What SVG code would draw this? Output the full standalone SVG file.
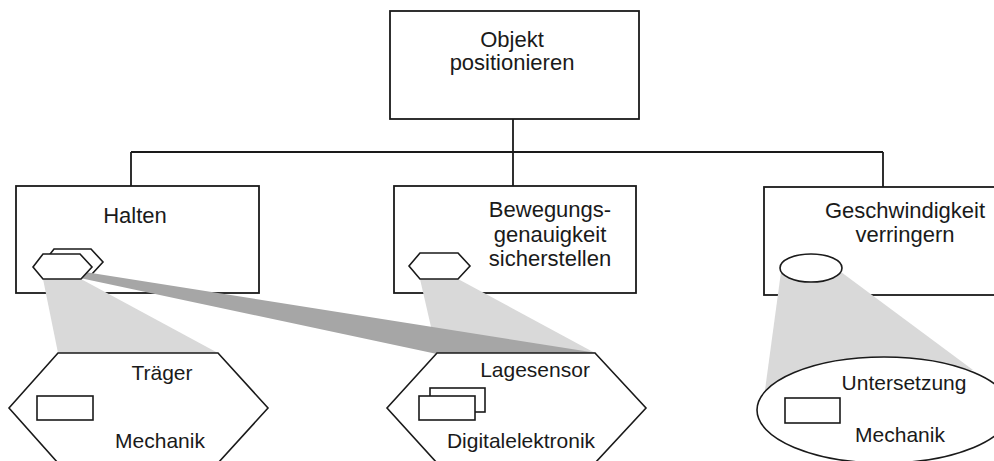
<svg xmlns="http://www.w3.org/2000/svg" width="994" height="461" viewBox="0 0 994 461">
<style>
.box{fill:#fff;stroke:#1a1a1a;stroke-width:1.8}
.ln{fill:none;stroke:#1a1a1a;stroke-width:1.8}
.shape{fill:#fff;stroke:#1a1a1a;stroke-width:1.6;stroke-linejoin:miter}
.cone{fill:#d9d9d9;stroke:none}
.band{fill:#a6a6a6;stroke:none}
text{font-family:"Liberation Sans",Arial,sans-serif;fill:#1a1a1a;text-anchor:middle}
.t22{font-size:22px}
.t21{font-size:21px}
</style>
<rect width="994" height="461" fill="#fff"/>
<g id="connectors">
<path class="ln" d="M513,119 V152 M131,152 H883 M131,152 V186 M513,152 V186 M883,152 V187"/>
</g>
<g id="objekt-positionieren">
<rect class="box" x="390" y="11" width="249" height="108"/>
<text class="t22" x="512" y="47">Objekt</text>
<text class="t22" x="512" y="70">positionieren</text>
</g>
<g id="halten">
<rect class="box" x="16" y="186" width="243" height="107"/>
<text class="t22" x="135" y="223">Halten</text>
</g>
<g id="bewegungsgenauigkeit">
<rect class="box" x="394" y="186" width="242" height="107"/>
<text class="t22" x="550" y="217">Bewegungs-</text>
<text class="t22" x="550" y="242">genauigkeit</text>
<text class="t22" x="550" y="266">sicherstellen</text>
</g>
<g id="geschwindigkeit">
<rect class="box" x="764" y="187" width="240" height="108"/>
<text class="t22" x="905" y="218">Geschwindigkeit</text>
<text class="t22" x="905" y="242">verringern</text>
</g>
<g id="projections">
<polygon class="cone" points="43,279 81,279 218,353 58,353"/>
<polygon class="cone" points="420,279 458,279 595,353 437,353"/>
<polygon class="cone" points="781,272 841,272 973,370 765,390"/>
</g>
<g id="halten-symbol">
<polygon class="shape" points="54,249 91,249 103,262 92,274 54,274 44,262"/>
<polygon class="band" points="85,272 597,353 437,354 80,278"/>
<polygon class="shape" points="43,254 80,254 92,267 81,279 43,279 33,267"/>
</g>
<g id="bewegung-symbol">
<polygon class="shape" points="420,253 458,253 470,266 458,279 420,279 409,266"/>
</g>
<g id="geschwindigkeit-symbol">
<ellipse class="shape" cx="811" cy="268" rx="31" ry="14"/>
</g>
<g id="traeger">
<polygon class="shape" points="58,353 218,353 268,408 218,463 58,463 9,408"/>
<rect class="shape" x="37" y="396" width="56" height="24"/>
<text class="t21" x="162" y="380">Träger</text>
<text class="t21" x="160" y="448">Mechanik</text>
</g>
<g id="lagesensor">
<polygon class="shape" points="437,353 595,353 646,408 595,463 437,463 387,408"/>
<rect class="shape" x="430" y="388" width="55" height="24"/>
<rect class="shape" x="419" y="396" width="56" height="24"/>
<text class="t21" x="535" y="377">Lagesensor</text>
<text class="t21" x="521" y="448">Digitalelektronik</text>
</g>
<g id="untersetzung">
<ellipse class="shape" cx="884" cy="410" rx="127" ry="53"/>
<rect class="shape" x="785" y="398" width="55" height="25"/>
<text class="t21" x="904" y="390">Untersetzung</text>
<text class="t21" x="900" y="442">Mechanik</text>
</g>
</svg>
